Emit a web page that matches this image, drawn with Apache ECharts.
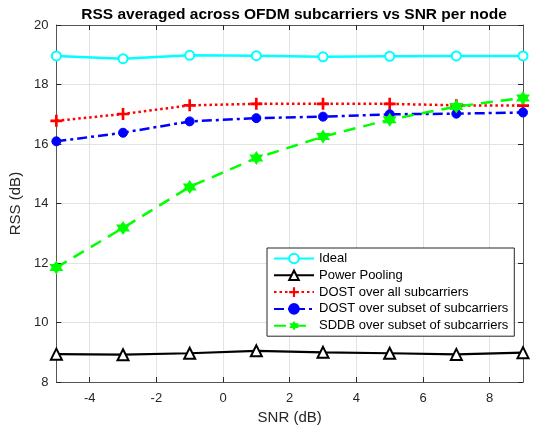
<!DOCTYPE html>
<html>
<head>
<meta charset="utf-8">
<script src="https://cdn.jsdelivr.net/npm/echarts@6/dist/echarts.min.js"></script>
<style>
html,body{margin:0;padding:0;background:#fff;}
#chart{width:534px;height:430px;}
</style>
</head>
<body>
<div id="chart"></div>
<script>
const snr = [-5, -3, -1, 1, 3, 5, 7, 9];
const ideal = [18.96, 18.87, 18.98, 18.97, 18.93, 18.95, 18.96, 18.96];
const powerPooling = [8.94, 8.92, 8.97, 9.05, 9.0, 8.97, 8.93, 8.99];
const dostAll = [16.78, 17.01, 17.30, 17.35, 17.35, 17.35, 17.30, 17.29];
const dostSubset = [16.09, 16.38, 16.76, 16.87, 16.92, 17.0, 17.02, 17.06];
const sddbSubset = [11.85, 13.18, 14.56, 15.53, 16.25, 16.82, 17.26, 17.55];
const xTicks = [-4, -2, 0, 2, 4, 6, 8];
const seriesNames = ['Ideal', 'Power Pooling', 'DOST over all subcarriers', 'DOST over subset of subcarriers', 'SDDB over subset of subcarriers'];

function pairs(arr) { return snr.map((x, i) => [x, arr[i]]); }

function hexagramPath() {
  let pts = [];
  for (let k = 0; k < 12; k++) {
    const a = (90 + k * 30) * Math.PI / 180;
    const r = (k % 2 === 0) ? 10 : 5.77;
    pts.push([(r * Math.cos(a)).toFixed(3), (-r * Math.sin(a)).toFixed(3)]);
  }
  return 'path://M' + pts.map(p => p[0] + ',' + p[1]).join('L') + 'Z';
}
const plusPath = 'path://M3.9,0H6.1V3.9H10V6.1H6.1V10H3.9V6.1H0V3.9H3.9Z';

const FONT = 'Liberation Sans, Arial, sans-serif';
const axisGray = '#555555';
const gridGray = '#e3e3e3';

const chart = echarts.init(document.getElementById('chart'), null, {renderer: 'canvas'});
chart.setOption({
  animation: false,
  backgroundColor: '#ffffff',
  title: {
    text: 'RSS averaged across OFDM subcarriers vs SNR per node',
    left: 289, top: 2, textAlign: 'center',
    textStyle: {fontFamily: FONT, fontSize: 15.5, fontWeight: 'bold', color: '#000'}
  },
  grid: {left: 56, right: 11, top: 25, bottom: 47, containLabel: false},
  legend: {
    orient: 'vertical', left: 267, top: 248,
    itemWidth: 40, itemHeight: 12, itemGap: 3.8,
    padding: [4, 6, 4, 6],
    backgroundColor: '#fff', borderColor: '#262626', borderWidth: 1, borderRadius: 0,
    textStyle: {fontFamily: FONT, fontSize: 13, color: '#000'},
    data: seriesNames
  },
  xAxis: [{
    type: 'value', min: -5, max: 9, position: 'bottom',
    name: 'SNR (dB)', nameLocation: 'middle', nameGap: 25,
    nameTextStyle: {fontFamily: FONT, fontSize: 15, color: '#262626'},
    axisLine: {show: true, onZero: false, lineStyle: {color: axisGray, width: 1}},
    axisTick: {show: true, inside: true, length: 5, customValues: xTicks, lineStyle: {color: '#262626'}},
    axisLabel: {customValues: xTicks, fontFamily: FONT, fontSize: 13, color: '#262626', margin: 10},
    splitLine: {show: true, lineStyle: {color: gridGray, width: 1}}
  }, {
    type: 'value', min: -5, max: 9, position: 'top',
    axisLine: {show: true, onZero: false, lineStyle: {color: axisGray, width: 1}},
    axisTick: {show: true, inside: true, length: 5, customValues: xTicks, lineStyle: {color: '#262626'}},
    axisLabel: {show: false},
    splitLine: {show: false}
  }],
  yAxis: [{
    type: 'value', min: 8, max: 20, interval: 2, position: 'left',
    name: 'RSS (dB)', nameLocation: 'middle', nameGap: 27,
    nameTextStyle: {fontFamily: FONT, fontSize: 15, color: '#262626'},
    axisLine: {show: true, onZero: false, lineStyle: {color: axisGray, width: 1}},
    axisTick: {show: true, inside: true, length: 5, lineStyle: {color: '#262626'}},
    axisLabel: {fontFamily: FONT, fontSize: 13, color: '#262626', margin: 8},
    splitLine: {show: true, lineStyle: {color: gridGray, width: 1}}
  }, {
    type: 'value', min: 8, max: 20, interval: 2, position: 'right',
    axisLine: {show: true, onZero: false, lineStyle: {color: axisGray, width: 1}},
    axisTick: {show: true, inside: true, length: 5, lineStyle: {color: '#262626'}},
    axisLabel: {show: false},
    splitLine: {show: false}
  }],
  series: [{
    name: seriesNames[0], type: 'line', data: pairs(ideal),
    symbol: 'emptyCircle', symbolSize: 9,
    lineStyle: {color: '#00ffff', width: 2.5},
    itemStyle: {color: '#00ffff', borderColor: '#00ffff', borderWidth: 2.2}
  }, {
    name: seriesNames[1], type: 'line', data: pairs(powerPooling),
    symbol: 'emptyTriangle', symbolSize: 11,
    lineStyle: {color: '#000', width: 2.2},
    itemStyle: {color: '#000', borderColor: '#000', borderWidth: 2.2}
  }, {
    name: seriesNames[2], type: 'line', data: pairs(dostAll),
    symbol: plusPath, symbolSize: 12,
    lineStyle: {color: '#ff0000', width: 2.5, type: [2.5, 3]},
    itemStyle: {color: '#ff0000'}
  }, {
    name: seriesNames[3], type: 'line', data: pairs(dostSubset),
    symbol: 'circle', symbolSize: 9,
    lineStyle: {color: '#0000ff', width: 2.5, type: [10, 4, 3, 4]},
    itemStyle: {color: '#0000ff', borderColor: '#0000ff', borderWidth: 1}
  }, {
    name: seriesNames[4], type: 'line', data: pairs(sddbSubset),
    symbol: hexagramPath(), symbolSize: 14,
    lineStyle: {color: '#00ff00', width: 2.5, type: [12, 8]},
    itemStyle: {color: '#00ff00'}
  }]
});
</script>
</body>
</html>
